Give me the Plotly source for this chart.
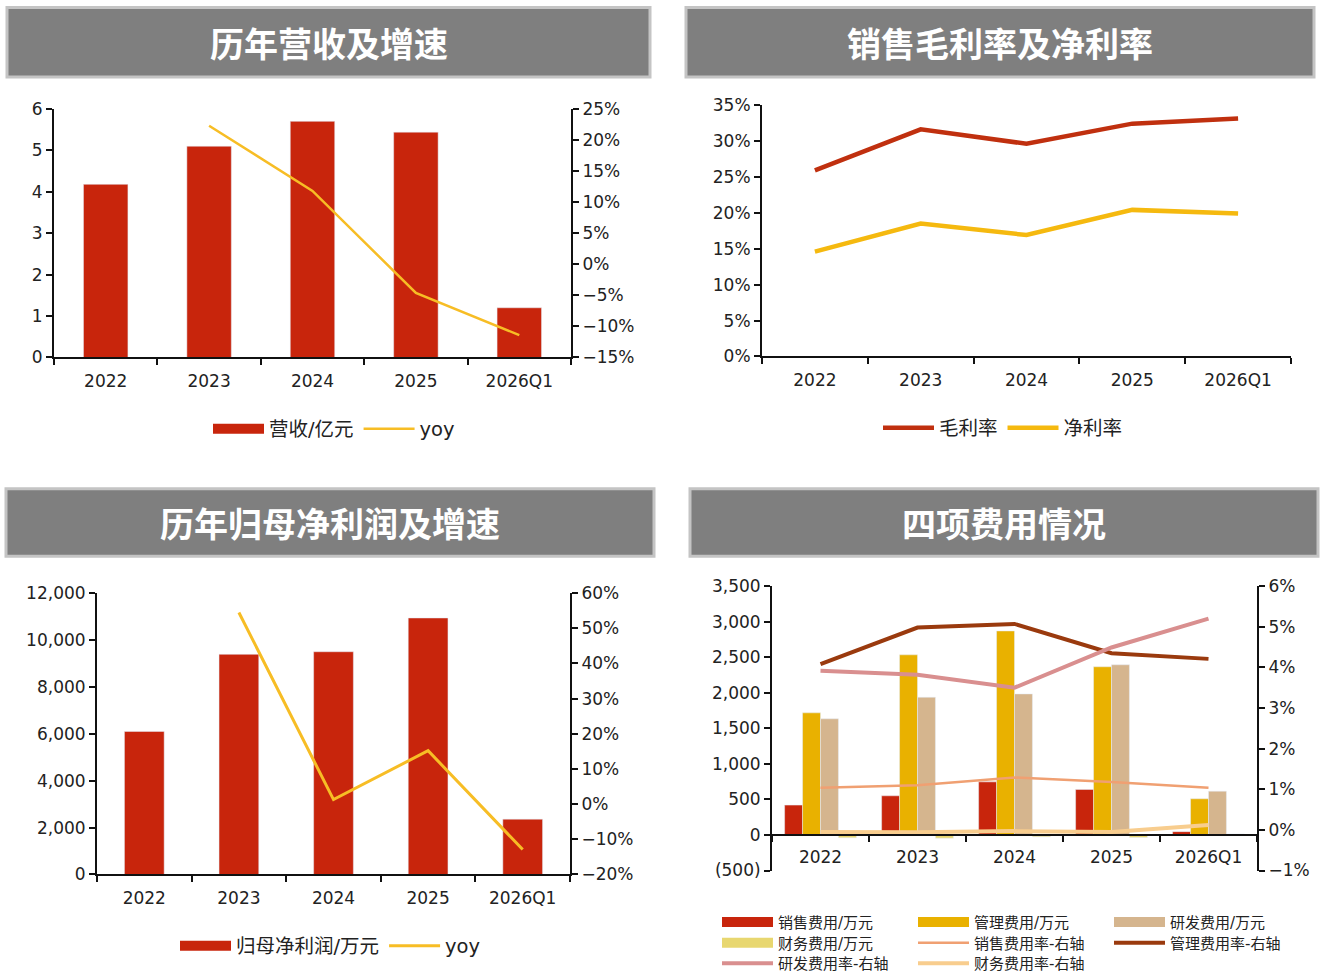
import plotly.graph_objects as go

W, H = 1320, 980

categories = ["2022", "2023", "2024", "2025", "2026Q1"]

# 历年营收及增速
revenue = [4.18, 5.10, 5.70, 5.44, 1.20]          # 亿元
revenue_yoy = [None, 22.3, 11.8, -4.6, -11.4]      # %

# 销售毛利率及净利率 (%)
gross_margin = [25.9, 31.6, 29.6, 32.4, 33.1]
net_margin = [14.6, 18.5, 16.9, 20.4, 19.9]

# 历年归母净利润及增速
net_profit = [6100, 9390, 9500, 10940, 2360]      # 万元
net_profit_yoy = [None, 54.5, 1.3, 15.2, -12.9]    # %

# 四项费用情况 (万元 / %)
selling_exp = [420, 551, 747, 640, 47]
admin_exp = [1718, 2534, 2870, 2366, 509]
rd_exp = [1634, 1937, 1984, 2394, 616]
fin_exp = [-40, -45, -25, -35, 15]
selling_rate = [1.04, 1.10, 1.29, 1.18, 1.04]
admin_rate = [4.08, 4.98, 5.07, 4.35, 4.21]
rd_rate = [3.92, 3.82, 3.50, 4.49, 5.20]
fin_rate = [-0.05, -0.06, -0.03, -0.05, 0.12]

left_ticks4 = [-500, 0, 500, 1000, 1500, 2000, 2500, 3000, 3500]
left_ticktext4 = ["(500)", "0", "500", "1,000", "1,500", "2,000", "2,500", "3,000", "3,500"]

titles = ["历年营收及增速", "销售毛利率及净利率", "历年归母净利润及增速", "四项费用情况"]

RED = "#c8250c"
YEL = "#f7bd25"
TICKFONT = dict(family="DejaVu Sans, Liberation Sans, sans-serif", size=17, color="#222222")
LEGFONT = dict(family="DejaVu Sans, Noto Sans CJK SC, sans-serif", size=19.5, color="#222222")


def fx(p):
    return p / W


def fy(p):
    # vertical page position (px) -> paper fraction, calibrated to the rendered output
    return 1 - ((p - 8.5) / 0.975) / H


fig = go.Figure()


def bar_with_key(x, y, name, color, xa, ya, lg, **kw):
    """Bar trace plus a wide legend key (the bar's own legend glyph is a small square)."""
    fig.add_trace(go.Bar(x=x, y=y, name=name, marker_color=color, xaxis=xa, yaxis=ya,
                         legend=lg, legendgroup=name, showlegend=False, **kw))
    fig.add_trace(go.Scatter(x=[None], y=[None], name=name, mode="lines",
                             line=dict(color=color, width=10), xaxis=xa, yaxis=ya,
                             legend=lg, legendgroup=name, hoverinfo="skip"))


# ---------- Chart 1 ----------
bar_with_key(categories, revenue, "营收/亿元", RED, "x", "y", "legend", width=0.43)
fig.add_trace(go.Scatter(x=categories, y=revenue_yoy, name="yoy", mode="lines",
                         line=dict(color=YEL, width=2.5), xaxis="x", yaxis="y2",
                         legend="legend"))

# ---------- Chart 2 ----------
fig.add_trace(go.Scatter(x=categories, y=gross_margin, name="毛利率", mode="lines",
                         line=dict(color="#c0300f", width=4.5), xaxis="x2", yaxis="y3",
                         legend="legend2"))
fig.add_trace(go.Scatter(x=categories, y=net_margin, name="净利率", mode="lines",
                         line=dict(color="#f5b90f", width=4.5), xaxis="x2", yaxis="y3",
                         legend="legend2"))

# ---------- Chart 3 ----------
bar_with_key(categories, net_profit, "归母净利润/万元", RED, "x3", "y4", "legend3", width=0.42)
fig.add_trace(go.Scatter(x=categories, y=net_profit_yoy, name="yoy", mode="lines",
                         line=dict(color=YEL, width=3), xaxis="x3", yaxis="y5",
                         legend="legend3"))

# ---------- Chart 4 ----------
bar4 = [
    ("销售费用/万元", selling_exp, RED, "legend4"),
    ("管理费用/万元", admin_exp, "#e9b100", "legend4"),
    ("研发费用/万元", rd_exp, "#d5b58e", "legend4"),
    ("财务费用/万元", fin_exp, "#e8d770", "legend5"),
]
for name, vals, col, lg in bar4:
    bar_with_key(categories, vals, name, col, "x4", "y6", lg)
line4 = [
    ("销售费用率-右轴", selling_rate, "#f0a072", 2.5, "legend5"),
    ("管理费用率-右轴", admin_rate, "#9a3a0e", 4, "legend5"),
    ("研发费用率-右轴", rd_rate, "#d98f8f", 4, "legend6"),
    ("财务费用率-右轴", fin_rate, "#f8cd8e", 4, "legend6"),
]
for name, vals, col, lw, lg in line4:
    fig.add_trace(go.Scatter(x=categories, y=vals, name=name, mode="lines",
                             line=dict(color=col, width=lw), xaxis="x4", yaxis="y7",
                             legend=lg))


def xcat(domain, **kw):
    d = dict(type="category", domain=[fx(domain[0]), fx(domain[1])], range=[-0.5, 4.5],
             showline=True, linecolor="#111111", linewidth=2, ticks="outside",
             tickson="boundaries", ticklen=6, tickwidth=2, tickcolor="#111111",
             ticklabelstandoff=7,
             showgrid=False, zeroline=False, tickfont=TICKFONT, fixedrange=True)
    d.update(kw)
    return d


def yax(domain, **kw):
    d = dict(domain=[fy(domain[1]), fy(domain[0])], showline=True, linecolor="#111111",
             linewidth=2, ticks="outside", ticklen=6, tickwidth=2, tickcolor="#111111",
             showgrid=False, zeroline=False, tickfont=TICKFONT, fixedrange=True)
    d.update(kw)
    return d


P1 = dict(x=(54, 571), y=(108, 358))
P2 = dict(x=(762, 1291), y=(104, 357))
P3 = dict(x=(97, 570), y=(595, 878))
P4 = dict(x=(772, 1257), y=(588, 874))

r4 = [-500, 3500]
y4_bot, y4_top = fy(P4["y"][1]), fy(P4["y"][0])
x4_pos = y4_bot + (0 - r4[0]) / (r4[1] - r4[0]) * (y4_top - y4_bot)

fig.update_layout(
    xaxis=xcat(P1["x"], anchor="y"),
    yaxis=yax(P1["y"], anchor="x", range=[0, 6], dtick=1),
    yaxis2=yax(P1["y"], anchor="x", overlaying="y", side="right", range=[-15, 25],
               dtick=5, ticksuffix="%"),
    xaxis2=xcat(P2["x"], anchor="y3"),
    yaxis3=yax(P2["y"], anchor="x2", range=[0, 35], dtick=5, ticksuffix="%"),
    xaxis3=xcat(P3["x"], anchor="y4"),
    yaxis4=yax(P3["y"], anchor="x3", range=[0, 12000], dtick=2000, tickformat=",d"),
    yaxis5=yax(P3["y"], anchor="x3", overlaying="y4", side="right", range=[-20, 60],
               dtick=10, ticksuffix="%"),
    xaxis4=xcat(P4["x"], anchor="free", position=x4_pos),
    yaxis6=yax(P4["y"], anchor="x4", range=r4, tickmode="array", tickvals=left_ticks4,
               ticktext=left_ticktext4),
    yaxis7=yax(P4["y"], anchor="x4", overlaying="y6", side="right", range=[-1, 6],
               dtick=1, ticksuffix="%"),
)

leg_common = dict(orientation="h", xanchor="left", yanchor="middle", bgcolor="rgba(0,0,0,0)",
                  font=LEGFONT, itemwidth=51, traceorder="normal", itemclick=False,
                  itemdoubleclick=False)
leg4 = dict(leg_common, x=fx(717), entrywidth=130, font=dict(LEGFONT, size=15))
fig.update_layout(
    legend=dict(leg_common, x=fx(208), y=fy(430)),
    legend2=dict(leg_common, x=fx(878), y=fy(429)),
    legend3=dict(leg_common, x=fx(175), y=fy(950)),
    legend4=dict(leg4, y=fy(926)),
    legend5=dict(leg4, y=fy(947)),
    legend6=dict(leg4, y=fy(968)),
)

# title bars
bars = [((7, 650), (6, 76)), ((686, 1314), (6, 76)), ((6, 654), (490, 558)),
        ((690, 1318), (490, 558))]
shapes = []
annotations = []
for (x0, x1), (y0, y1) in bars:
    shapes.append(dict(type="rect", xref="paper", yref="paper", x0=fx(x0), x1=fx(x1),
                       y0=fy(y1), y1=fy(y0), fillcolor="#7f7f7f",
                       line=dict(color="#c4c4c4", width=3), layer="below"))
for t, ((x0, x1), (y0, y1)) in zip(titles, bars):
    annotations.append(dict(text="<b>" + t + "</b>", xref="paper", yref="paper",
                            x=fx((x0 + x1) / 2), y=fy((y0 + y1) / 2), showarrow=False,
                            xanchor="center", yanchor="middle",
                            font=dict(family="Noto Sans CJK SC, sans-serif", size=34,
                                      color="white")))

fig.update_layout(
    width=W, height=H, autosize=False,
    margin=dict(l=0, r=0, t=0, b=0),
    paper_bgcolor="white", plot_bgcolor="white",
    barmode="group", bargap=0.26, bargroupgap=0,
    shapes=shapes, annotations=annotations,
    showlegend=True,
)

post = ("var de=document.documentElement,b=document.body;"
        "de.style.margin='0';de.style.padding='0';de.style.height='980px';de.style.overflow='hidden';"
        "b.style.margin='0';b.style.padding='0';b.style.height='980px';b.style.overflow='hidden';"
        "var g=document.getElementById('{plot_id}');g.style.position='fixed';"
        "g.style.left='0px';g.style.top='0px';")

fig.write_html("out.html", post_script=post, config={"displayModeBar": False})
